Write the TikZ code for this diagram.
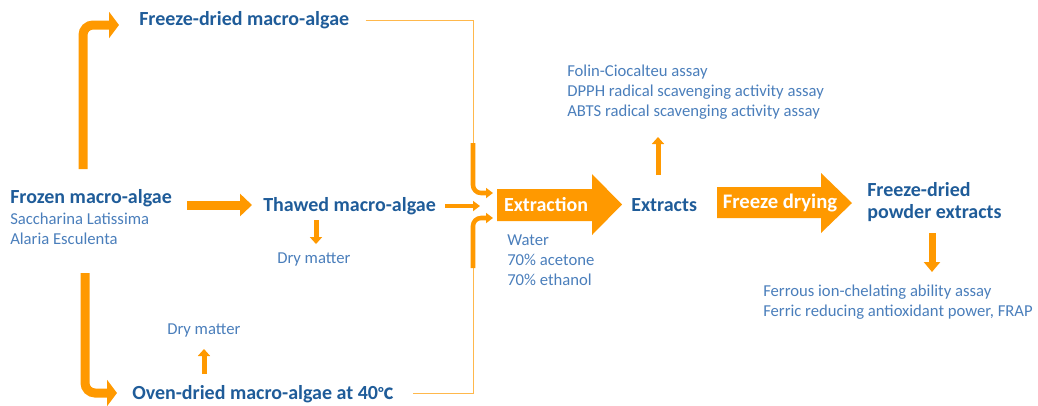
\documentclass[tikz,border=0pt]{standalone}
\usepackage{fontspec}
\setmainfont{Carlito}
\newfontfamily\cjkf{Noto Sans CJK SC}
\usetikzlibrary{arrows.meta}
\definecolor{org}{HTML}{FF9900}
\definecolor{dblue}{HTML}{1F5C99}
\definecolor{lblue}{HTML}{4A7EBB}
\tikzset{
  bt/.style={text=dblue, font=\fontsize{15}{18}\selectfont\bfseries, inner sep=0pt, anchor=west},
  rt/.style={text=lblue, font=\fontsize{12.5}{15}\selectfont, inner sep=0pt, anchor=west},
  wt/.style={text=white, font=\fontsize{15}{18}\selectfont\bfseries, inner sep=0pt},
  bigarrow/.style={draw=org, line width=6.75pt, rounded corners=7.5pt, -{Triangle[length=7.5pt,width=19.5pt]}},
  midarrow/.style={draw=org, line width=6.75pt, -{Triangle[length=9pt,width=16.5pt]}},
  smallarrow/.style={draw=org, line width=3.4pt, rounded corners=6pt, -{Triangle[length=5.25pt,width=7.5pt]}},
  dryarrow/.style={draw=org, line width=3.75pt, -{Triangle[length=5.25pt,width=9pt]}},
  ferarrow/.style={draw=org, line width=5.25pt, -{Triangle[length=7.5pt,width=12pt]}},
  thinline/.style={draw=org!70, line width=0.75pt},
}
\begin{document}
\begin{tikzpicture}[x=0.75pt,y=-0.75pt]
\useasboundingbox (0,0) rectangle (1038,405);
% text nodes
\node[bt] (fdma) at (139,20) {Freeze-dried macro-algae};
\node[bt] (frozen) at (10,198) {Frozen macro-algae};
\node[rt] (sacch) at (10,219) {Saccharina Latissima};
\node[rt] (alaria) at (10,239) {Alaria Esculenta};
\node[bt] (thawed) at (263,206) {Thawed macro-algae};
\node[rt] (dry1) at (277,259) {Dry matter};
\node[rt] (dry2) at (167,330) {Dry matter};
\node[bt] (oven) at (132,394.5) {Oven-dried macro-algae at 40{\cjkf\fontsize{11.5}{14}\selectfont ℃}};
\node[rt] (water) at (507,240) {Water};
\node[rt] (acet) at (507,260) {70\% acetone};
\node[rt] (eth) at (507,280) {70\% ethanol};
\node[bt] (extracts) at (631,205) {Extracts};
\node[rt] (folin) at (567,72) {Folin-Ciocalteu assay};
\node[rt] (dpph) at (567,92) {DPPH radical scavenging activity assay};
\node[rt] (abts) at (567,112) {ABTS radical scavenging activity assay};
\node[bt] (fd1) at (867,190) {Freeze-dried};
\node[bt] (fd2) at (867,213) {powder extracts};
\node[rt] (ferrous) at (763,292) {Ferrous ion-chelating ability assay};
\node[rt] (ferric) at (763,312) {Ferric reducing antioxidant power, FRAP};
% big arrows
\fill[org] (497,189) -- (592,189) -- (592,174) -- (622,204.5) -- (592,235) -- (592,221) -- (497,221) -- cycle;
\node[wt] (extraction) at (546,205) {Extraction};
\fill[org] (717,187) -- (821,187) -- (821,173) -- (852,203) -- (821,233) -- (821,218) -- (717,218) -- cycle;
\node[wt,font=\fontsize{15.5}{18}\selectfont\bfseries] (fdry) at (780,203) {Freeze drying};
% coordinates
\coordinate (a1s) at (83,169);
\coordinate (a1e) at (119,25);
\coordinate (a2s) at (85,273);
\coordinate (a2e) at (117,393);
\coordinate (ft) at (473,143);
\coordinate (fb) at (473,268);
\coordinate (ie1) at (493,193);
\coordinate (ie3) at (493,218);
% connectors
\draw[bigarrow] (a1s) |- (a1e);
\draw[bigarrow] (a2s) |- (a2e);
\draw[midarrow] (187,205) -- (252,205);
\draw[thinline] ([xshift=12pt]fdma.east) -| (ft);
\draw[thinline] (413,393) -| (fb);
\draw[smallarrow] (ft) |- (ie1);
\draw[smallarrow] (fb) |- (ie3);
\draw[smallarrow] ([xshift=7pt]thawed.east) -- (480,206);
\draw[dryarrow] (316,220) -- ([yshift=6pt]dry1.north -| 316,0);
\draw[dryarrow] (204,374) -- (204,349);
\draw[dryarrow] (658,175) -- (658,137);
\draw[ferarrow] (932,233) -- (932,272);
\end{tikzpicture}
\end{document}
